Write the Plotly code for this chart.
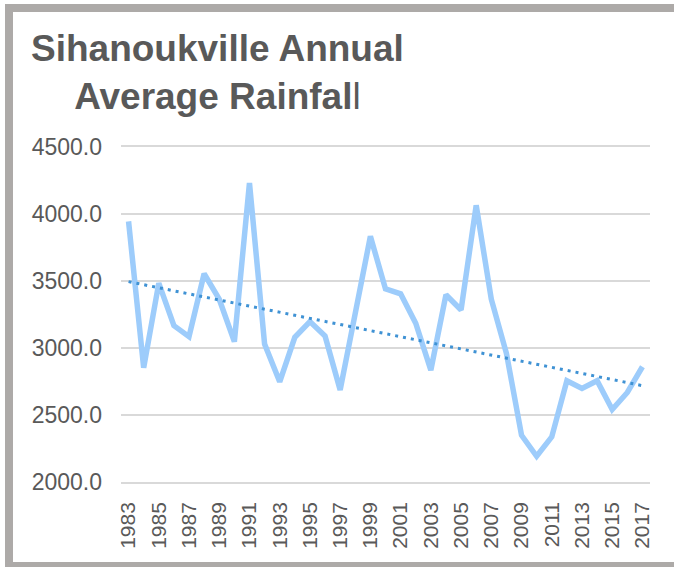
import numpy as np
import plotly.graph_objects as go

years = ["1983", "1984", "1985", "1986", "1987", "1988", "1989", "1990", "1991", "1992",
         "1993", "1994", "1995", "1996", "1997", "1998", "1999", "2000", "2001", "2002",
         "2003", "2004", "2005", "2006", "2007", "2008", "2009", "2010", "2011", "2012",
         "2013", "2014", "2015", "2016", "2017"]
rainfall = [3945, 2853, 3484, 3167, 3085, 3554, 3364, 3047, 4232, 3030,
            2748, 3080, 3197, 3090, 2686, 3260, 3833, 3441, 3404, 3185,
            2835, 3397, 3284, 4065, 3364, 2960, 2349, 2192, 2337, 2756,
            2698, 2756, 2541, 2668, 2860]
tick_years = years[::2]
y_ticks = [2000, 2500, 3000, 3500, 4000, 4500]

idx = np.arange(len(rainfall))
slope, intercept = np.polyfit(idx, rainfall, 1)
trend = slope * idx + intercept

W, H = 674, 567
L, R, T, B = 121, 650, 147, 482

def px(x):
    return (x - L) / (R - L)

def py(y):
    return (B - y) / (B - T)

fig = go.Figure()
fig.add_trace(go.Scatter(x=years, y=rainfall, mode="lines",
                         line=dict(color="#9DCCFB", width=5.5), showlegend=False))
fig.add_trace(go.Scatter(x=years, y=trend, mode="lines",
                         line=dict(color="#3F92D4", width=3, dash="3px,5px"),
                         showlegend=False))

font_family = "Liberation Sans, Arial, sans-serif"
x_font = dict(family=font_family, size=21, color="#595959")
y_font = dict(family=font_family, size=23, color="#595959")

fig.update_layout(
    width=W, height=H,
    margin=dict(l=L, r=W - R, t=T, b=H - B),
    paper_bgcolor="white", plot_bgcolor="white",
    xaxis=dict(type="category", tickmode="array", tickvals=tick_years, ticktext=tick_years,
               tickangle=-90, tickfont=x_font, showgrid=False,
               showline=True, mirror=True, linecolor="#D9D9D9", linewidth=1.5,
               ticks="", ticklabelstandoff=10, range=[-0.5, len(years) - 0.5]),
    yaxis=dict(range=[2000, 4500], tickmode="array", tickvals=y_ticks,
               tickformat=".1f", tickfont=y_font, showgrid=True,
               gridcolor="#D9D9D9", gridwidth=1.5, zeroline=False,
               ticks="", ticklabelstandoff=18, showline=False),
    annotations=[dict(xref="paper", yref="paper", x=px(217.5), y=py(26),
                      xanchor="center", yanchor="top", showarrow=False,
                      align="center",
                      text="<b>Sihanoukville Annual</b><br><b>Average Rainfal</b>l",
                      font=dict(family=font_family, size=37, color="#595959"))],
    shapes=[dict(type="rect", xref="paper", yref="paper",
                 x0=px(9), x1=px(700), y0=py(8), y1=py(566),
                 line=dict(color="#ADAAA8", width=8), fillcolor="rgba(0,0,0,0)",
                 layer="above")],
)

fig.write_html("out.html", config={"displayModeBar": False},
               post_script="document.body.style.margin='0px';document.body.style.padding='0px';")
